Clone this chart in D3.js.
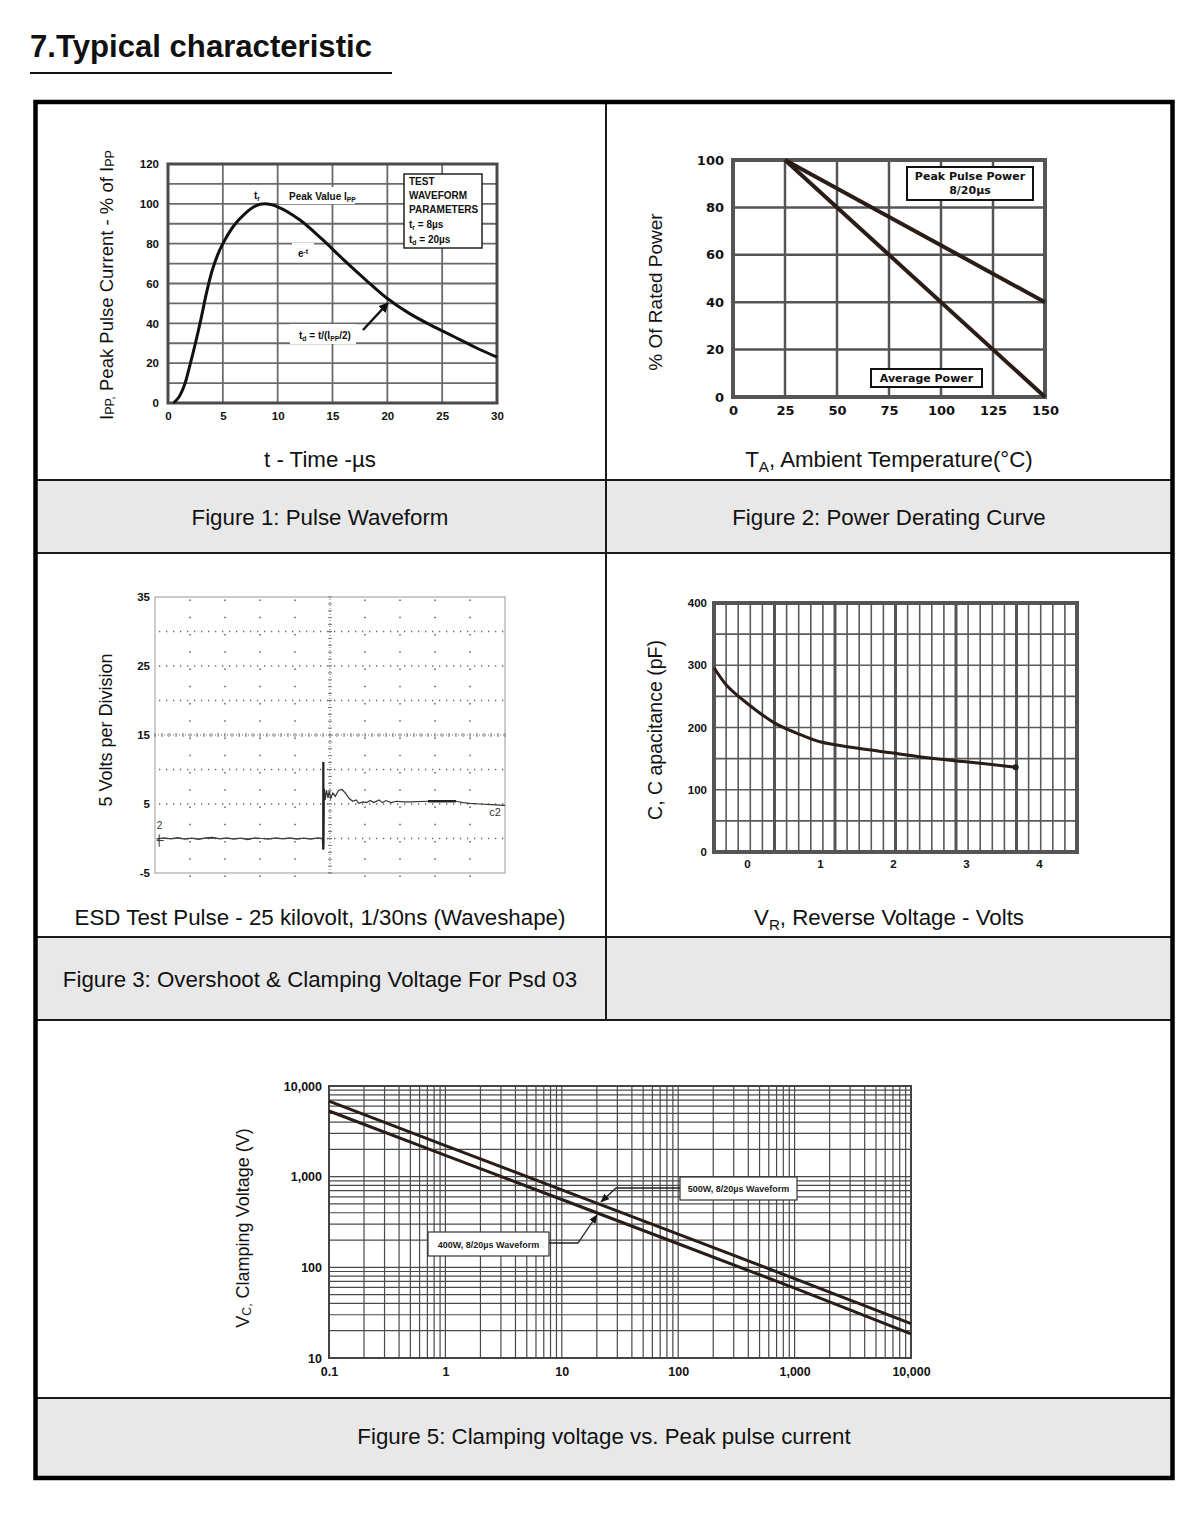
<!DOCTYPE html>
<html>
<head>
<meta charset="utf-8">
<script src="https://cdn.jsdelivr.net/npm/d3@7"></script>
<style>body{margin:0;background:#fff}</style>
</head>
<body>
<div id="chart"></div>
<script>
// fig 1 - pulse waveform
var pulseT=[0.5,1,1.5,2,2.5,3,3.5,4,4.5,5,6,7,8,8.8,10,12,14,16,18,20,22,24,26,28,30]
var pulseI=[0,3,9,19,30,42,55,66,74,80,89,95,99,100,98.5,92,82.5,72,62,52.5,45,39,33.5,28,23]
var fig1Xticks=[0,5,10,15,20,25,30]
var fig1Yticks=[0,20,40,60,80,100,120]

// fig 2 - derating
var derTemp=[25,150]
var derPeak=[100,40]
var derAvg=[100,0]
var fig2Xticks=[0,25,50,75,100,125,150]
var fig2Yticks=[0,20,40,60,80,100]

// fig 3 - esd scope trace (divisions, volts)
var esdDiv=[0.05,0.25,0.45,0.65,0.85,1.05,1.25,1.45,1.65,1.85,2.05,2.25,2.45,2.65,2.85,3.05,3.25,3.45,3.65,3.85,4.05,4.25,4.45,4.65,4.78,
  4.80,4.81,4.82,4.84,4.86,4.9,4.94,4.98,5.02,5.08,5.15,5.25,5.35,5.45,5.55,5.65,5.75,5.82,5.95,6.05,6.15,6.25,6.4,6.5,6.6,6.75,6.9,7.1,7.3,7.8,8.6,8.8,9.0,9.3,9.6,10]
var esdVolt=[-0.1,0.1,-0.05,0.12,-0.1,0.05,-0.12,0.08,0.15,-0.05,0.1,-0.1,0.05,-0.15,0.1,0.0,-0.1,0.08,-0.05,0.1,-0.08,0.05,-0.1,0.08,0.0,
  -1.6,11.1,-1.0,7.2,5.6,7.0,5.9,6.9,5.8,6.6,6.1,7.0,7.1,6.5,5.8,5.4,5.6,5.1,5.3,5.2,5.5,5.2,5.6,5.2,5.5,5.2,5.4,5.3,5.3,5.4,5.4,5.2,5.1,5.0,4.9,4.8]
var fig3Yticks=[-5,5,15,25,35]

// fig 4 - capacitance
var capV=[-0.45,-0.28,0,0.38,0.68,1,1.5,2,2.5,3,3.68]
var capPF=[296,268,239,207,191,177,167,159,151,145,136]
var fig4Xticks=[0,1,2,3,4]
var fig4Yticks=[0,100,200,300,400]

// fig 5 - clamping voltage
var ippA=[0.1,1,10,100,1000,10000]
var vc500=[6800,2200,715,232,75,24]
var vc400=[5300,1720,560,182,59,18.5]
var fig5Xticks=[0.1,1,10,100,1000,10000]
var fig5Xlabels=["0.1","1","10","100","1,000","10,000"]
var fig5Yticks=[10,100,1000,10000]
var fig5Ylabels=["10","100","1,000","10,000"]

var sans="Liberation Sans, Arial, sans-serif"
var narrow="Liberation Sans Narrow, Liberation Sans, Arial, sans-serif"
var verd="DejaVu Sans, Verdana, sans-serif"
var ink="#2a1c16"
var capSize=22.3

var svg=d3.select("#chart").append("svg").attr("width",1200).attr("height",1513)
var defs=svg.append("defs")
defs.append("marker").attr("id","arr").attr("viewBox","0 0 10 10").attr("refX",9).attr("refY",5)
  .attr("markerWidth",4).attr("markerHeight",4).attr("orient","auto")
  .append("path").attr("d","M0,0L10,5L0,10z").attr("fill","#111")
defs.append("marker").attr("id","arr2").attr("viewBox","0 0 10 10").attr("refX",9).attr("refY",5)
  .attr("markerWidth",7).attr("markerHeight",7).attr("orient","auto")
  .append("path").attr("d","M0,1L10,5L0,9z").attr("fill","#111")

// title
svg.append("text").attr("x",30).attr("y",57).attr("font-family",sans).attr("font-weight","bold")
  .attr("font-size",31).attr("fill","#111").attr("textLength",342).attr("lengthAdjust","spacingAndGlyphs")
  .text("7.Typical characteristic")
svg.append("line").attr("x1",30).attr("x2",392).attr("y1",73).attr("y2",73).attr("stroke","#111").attr("stroke-width",2)

// frame
var bands=[[480,553],[937,1020],[1398,1478]]
bands.forEach(function(b){
  svg.append("rect").attr("x",37).attr("y",b[0]).attr("width",1134).attr("height",b[1]-b[0]).attr("fill","#e8e8e8")
})
;[480,553,937,1020,1398].forEach(function(y){
  svg.append("line").attr("x1",36).attr("x2",1172).attr("y1",y).attr("y2",y).attr("stroke","#1a1a1a").attr("stroke-width",2)
})
svg.append("line").attr("x1",606).attr("x2",606).attr("y1",102).attr("y2",1020).attr("stroke","#1a1a1a").attr("stroke-width",2)
svg.append("rect").attr("x",35.5).attr("y",102).attr("width",1137).attr("height",1376)
  .attr("fill","none").attr("stroke","#000").attr("stroke-width",4.5)

function caption(x,y,txt){
  return svg.append("text").attr("x",x).attr("y",y).attr("text-anchor","middle").attr("font-family",sans)
    .attr("font-size",capSize).attr("fill","#111").text(txt)
}
// parts: [text, 1 = subscript, 2 = superscript]
function rich(sel,parts){
  parts.forEach(function(p){
    var t=sel.append("tspan").text(p[0])
    if(p[1]==1) t.attr("font-size","0.68em").attr("baseline-shift","-0.3em")
    if(p[1]==2) t.attr("font-size","0.68em").attr("baseline-shift","super")
  })
  return sel
}
function vlabel(cx,cy,size,parts){
  var t=svg.append("text").attr("transform","translate("+cx+","+cy+") rotate(-90)")
    .attr("text-anchor","middle").attr("dominant-baseline","central").attr("font-family",sans)
    .attr("font-size",size).attr("fill","#111")
  return rich(t,parts)
}
function tickStyle(g,font,size){
  g.attr("font-family",font).attr("font-size",size).attr("font-weight","bold")
  g.select(".domain").remove()
  g.selectAll("line").remove()
  g.selectAll("text").attr("fill","#111")
}
function grid(g,x,y,xv,yv,color,w){
  g.selectAll(null).data(xv).enter().append("line")
    .attr("x1",function(d){return x(d)}).attr("x2",function(d){return x(d)})
    .attr("y1",y.range()[0]).attr("y2",y.range()[1]).attr("stroke",color).attr("stroke-width",w)
  g.selectAll(null).data(yv).enter().append("line")
    .attr("y1",function(d){return y(d)}).attr("y2",function(d){return y(d)})
    .attr("x1",x.range()[0]).attr("x2",x.range()[1]).attr("stroke",color).attr("stroke-width",w)
}
var plain=function(d){return String(d)}

// ---------- Figure 1 ----------
var x1=d3.scaleLinear().domain([0,30]).range([168,497])
var y1=d3.scaleLinear().domain([0,120]).range([403,164])
var g1=svg.append("g")
grid(g1,x1,y1,[5,10,15,20,25],d3.range(10,120,10),"#6a6a6a",1.8)
g1.append("rect").attr("x",168).attr("y",164).attr("width",329).attr("height",239)
  .attr("fill","none").attr("stroke","#4a4a4a").attr("stroke-width",3)
g1.append("g").attr("transform","translate(0,403)")
  .call(d3.axisBottom(x1).tickValues(fig1Xticks).tickSize(0).tickPadding(9)).call(tickStyle,narrow,11.5)
g1.append("g").attr("transform","translate(168,0)")
  .call(d3.axisLeft(y1).tickValues(fig1Yticks).tickSize(0).tickPadding(9)).call(tickStyle,narrow,11.5)
// white label backings
g1.append("rect").attr("x",279).attr("y",187).attr("width",76).attr("height",17).attr("fill","#fff")
g1.append("rect").attr("x",292).attr("y",243).attr("width",22).attr("height",17).attr("fill","#fff")
g1.append("rect").attr("x",290).attr("y",324).attr("width",66).attr("height",20).attr("fill","#fff")
g1.append("path").datum(pulseT.map(function(t,i){return [t,pulseI[i]]}))
  .attr("d",d3.line().x(function(d){return x1(d[0])}).y(function(d){return y1(d[1])}).curve(d3.curveCatmullRom.alpha(0.5)))
  .attr("fill","none").attr("stroke","#111").attr("stroke-width",3)
function small(g,x,y,parts,size,anchor){
  var t=g.append("text").attr("x",x).attr("y",y).attr("font-family",narrow).attr("font-weight","bold")
    .attr("font-size",size||10).attr("fill","#111").attr("text-anchor",anchor||"start")
  return rich(t,parts)
}
small(g1,254,199,[["t"],["r",1]])
small(g1,289,200,[["Peak Value I"],["PP",1]])
small(g1,298,257,[["e"],["-t",2]])
small(g1,299,339,[["t"],["d",1],[" = t/(I"],["PP",1],["/2)"]])
g1.append("line").attr("x1",363).attr("y1",330).attr("x2",388).attr("y2",303)
  .attr("stroke","#111").attr("stroke-width",2.5).attr("marker-end","url(#arr)")
g1.append("rect").attr("x",404).attr("y",174).attr("width",78).attr("height",74)
  .attr("fill","#fff").attr("stroke","#222").attr("stroke-width",1.5)
small(g1,409,185,[["TEST"]])
small(g1,409,199,[["WAVEFORM"]])
small(g1,409,213,[["PARAMETERS"]])
small(g1,409,228,[["t"],["r",1],[" = 8µs"]])
small(g1,409,243,[["t"],["d",1],[" = 20µs"]])
vlabel(106,285,18.5,[["I"],["PP,",1],[" Peak Pulse Current - % of I"],["PP",1]])
caption(320,467,"t - Time -µs")
caption(320,525,"Figure 1: Pulse Waveform")

// ---------- Figure 2 ----------
var x2=d3.scaleLinear().domain([0,150]).range([733,1045])
var y2=d3.scaleLinear().domain([0,100]).range([397,160])
var g2=svg.append("g")
grid(g2,x2,y2,[25,50,75,100,125],[20,40,60,80],"#555",2.5)
g2.append("rect").attr("x",733).attr("y",160).attr("width",312).attr("height",237)
  .attr("fill","none").attr("stroke","#555").attr("stroke-width",4)
g2.append("g").attr("transform","translate(0,397)")
  .call(d3.axisBottom(x2).tickValues(fig2Xticks).tickSize(0).tickPadding(9)).call(tickStyle,verd,13)
g2.append("g").attr("transform","translate(733,0)")
  .call(d3.axisLeft(y2).tickValues(fig2Yticks).tickSize(0).tickPadding(9)).call(tickStyle,verd,13)
var line2=d3.line().x(function(d){return x2(d[0])}).y(function(d){return y2(d[1])})
g2.append("path").datum(derTemp.map(function(t,i){return [t,derPeak[i]]})).attr("d",line2)
  .attr("fill","none").attr("stroke",ink).attr("stroke-width",4)
g2.append("path").datum(derTemp.map(function(t,i){return [t,derAvg[i]]})).attr("d",line2)
  .attr("fill","none").attr("stroke",ink).attr("stroke-width",4)
g2.append("rect").attr("x",907).attr("y",167).attr("width",126).attr("height",33)
  .attr("fill","#fff").attr("stroke","#111").attr("stroke-width",2)
g2.append("text").attr("x",970).attr("y",180).attr("text-anchor","middle").attr("font-family",verd)
  .attr("font-weight","bold").attr("font-size",11).attr("fill","#111").text("Peak Pulse Power")
g2.append("text").attr("x",970).attr("y",194).attr("text-anchor","middle").attr("font-family",verd)
  .attr("font-weight","bold").attr("font-size",11).attr("fill","#111").text("8/20µs")
g2.append("rect").attr("x",871).attr("y",369).attr("width",111).attr("height",18)
  .attr("fill","#fff").attr("stroke","#111").attr("stroke-width",2)
g2.append("text").attr("x",926.5).attr("y",382).attr("text-anchor","middle").attr("font-family",verd)
  .attr("font-weight","bold").attr("font-size",11).attr("fill","#111").text("Average Power")
vlabel(655,292,19,[["% Of Rated Power"]])
var t2=svg.append("text").attr("x",889).attr("y",467).attr("text-anchor","middle").attr("font-family",sans)
  .attr("font-size",capSize).attr("fill","#111")
rich(t2,[["T"],["A",1],[", Ambient Temperature(°C)"]])
caption(889,525,"Figure 2: Power Derating Curve")

// ---------- Figure 3 ----------
var x3=d3.scaleLinear().domain([0,10]).range([155,505])
var y3=d3.scaleLinear().domain([-5,35]).range([873,597])
var g3=svg.append("g")
g3.append("rect").attr("x",155).attr("y",597).attr("width",350).attr("height",276)
  .attr("fill","#fff").attr("stroke","#999").attr("stroke-width",1)
g3.selectAll(null).data([1,2,3,4,6,7,8,9]).enter().append("line")
  .attr("x1",function(d){return x3(d)}).attr("x2",function(d){return x3(d)})
  .attr("y1",y3(-5)+4).attr("y2",y3(35)).attr("stroke","#555").attr("stroke-width",1.4)
  .attr("stroke-dasharray","1.4,15.85")
g3.selectAll(null).data([0,5,10,20,25,30]).enter().append("line")
  .attr("y1",function(d){return y3(d)}).attr("y2",function(d){return y3(d)})
  .attr("x1",x3(0)+4).attr("x2",x3(10)).attr("stroke","#666").attr("stroke-width",1.3)
  .attr("stroke-dasharray","1.3,5.7")
// center cross lines
g3.append("line").attr("x1",x3(5)).attr("x2",x3(5)).attr("y1",y3(-5)).attr("y2",y3(35))
  .attr("stroke","#666").attr("stroke-width",1).attr("stroke-dasharray","1,2")
g3.append("line").attr("y1",y3(15)).attr("y2",y3(15)).attr("x1",x3(0)).attr("x2",x3(10))
  .attr("stroke","#666").attr("stroke-width",1).attr("stroke-dasharray","1,2")
g3.selectAll(null).data(d3.range(0,10.01,0.2)).enter().append("line")
  .attr("x1",function(d){return x3(d)}).attr("x2",function(d){return x3(d)})
  .attr("y1",y3(15)-2).attr("y2",y3(15)+2).attr("stroke","#777").attr("stroke-width",1)
g3.selectAll(null).data(d3.range(-5,35.01,1)).enter().append("line")
  .attr("y1",function(d){return y3(d)}).attr("y2",function(d){return y3(d)})
  .attr("x1",x3(5)-2).attr("x2",x3(5)+2).attr("stroke","#777").attr("stroke-width",1)
g3.append("g").attr("transform","translate(155,0)")
  .call(d3.axisLeft(y3).tickValues(fig3Yticks).tickFormat(plain).tickSize(0).tickPadding(5)).call(tickStyle,narrow,11.5)
g3.append("path").datum(esdDiv.map(function(t,i){return [t,esdVolt[i]]}))
  .attr("d",d3.line().x(function(d){return x3(d[0])}).y(function(d){return y3(d[1])}))
  .attr("fill","none").attr("stroke","#333").attr("stroke-width",1.2)
// heavy spike and heavy segments of the trace
g3.append("line").attr("x1",x3(4.81)).attr("x2",x3(4.81)).attr("y1",y3(-1.6)).attr("y2",y3(11.1))
  .attr("stroke","#222").attr("stroke-width",2.2)
g3.append("line").attr("x1",x3(0.05)).attr("x2",x3(4.78)).attr("y1",y3(0)).attr("y2",y3(0))
  .attr("stroke","#444").attr("stroke-width",0.8)
g3.append("line").attr("x1",x3(7.8)).attr("x2",x3(8.6)).attr("y1",y3(5.4)).attr("y2",y3(5.4))
  .attr("stroke","#222").attr("stroke-width",2.5)
g3.append("text").attr("x",x3(0.05)).attr("y",y3(1.4)).attr("font-family",narrow).attr("font-size",10).attr("fill","#333").text("2")
g3.append("line").attr("x1",x3(0.05)).attr("x2",x3(0.25)).attr("y1",y3(-0.3)).attr("y2",y3(-0.3)).attr("stroke","#333").attr("stroke-width",1)
g3.append("line").attr("x1",x3(0.12)).attr("x2",x3(0.12)).attr("y1",y3(0.6)).attr("y2",y3(-1.2)).attr("stroke","#333").attr("stroke-width",1)
g3.append("text").attr("x",x3(9.55)).attr("y",y3(3.3)).attr("font-family",narrow).attr("font-size",11).attr("fill","#333").text("c2")
vlabel(106,730,18,[["5 Volts per Division"]])
caption(320,925,"ESD Test Pulse - 25 kilovolt, 1/30ns (Waveshape)")
caption(320,987,"Figure 3: Overshoot & Clamping Voltage For Psd 03")

// ---------- Figure 4 ----------
var gx4=d3.scaleLinear().domain([0,30]).range([714,1077]) // grid divisions
var x4=d3.scaleLinear().domain([0,4]).range([747,1039])   // volts
var y4=d3.scaleLinear().domain([0,400]).range([852,603])
var g4=svg.append("g")
grid(g4,gx4,y4,d3.range(1,30).filter(function(d){return d%5}),d3.range(50,400,50),"#5a5a5a",1.6)
g4.selectAll(null).data([5,10,15,20,25]).enter().append("line")
  .attr("x1",function(d){return gx4(d)}).attr("x2",function(d){return gx4(d)})
  .attr("y1",852).attr("y2",603).attr("stroke","#555").attr("stroke-width",3)
g4.append("rect").attr("x",714).attr("y",603).attr("width",363).attr("height",249)
  .attr("fill","none").attr("stroke","#555").attr("stroke-width",4)
g4.append("g").attr("transform","translate(0,852)")
  .call(d3.axisBottom(x4).tickValues(fig4Xticks).tickFormat(plain).tickSize(0).tickPadding(8)).call(tickStyle,narrow,11.5)
g4.append("g").attr("transform","translate(714,0)")
  .call(d3.axisLeft(y4).tickValues(fig4Yticks).tickFormat(plain).tickSize(0).tickPadding(7)).call(tickStyle,narrow,11.5)
g4.append("path").datum(capV.map(function(v,i){return [v,capPF[i]]}))
  .attr("d",d3.line().x(function(d){return x4(d[0])}).y(function(d){return y4(d[1])}).curve(d3.curveCatmullRom.alpha(0.5)))
  .attr("fill","none").attr("stroke",ink).attr("stroke-width",3)
g4.append("circle").attr("cx",x4(capV[capV.length-1])).attr("cy",y4(capPF[capPF.length-1])).attr("r",3).attr("fill",ink)
vlabel(655,730,19.5,[["C, C apacitance (pF)"]])
var t4=svg.append("text").attr("x",889).attr("y",925).attr("text-anchor","middle").attr("font-family",sans)
  .attr("font-size",capSize).attr("fill","#111")
rich(t4,[["V"],["R",1],[", Reverse Voltage - Volts"]])

// ---------- Figure 5 ----------
var x5=d3.scaleLog().domain([0.1,10000]).range([329,911])
var y5=d3.scaleLog().domain([10,10000]).range([1358,1086])
var g5=svg.append("g")
grid(g5,x5,y5,x5.ticks(),y5.ticks(),"#4a4a4a",1.2)
g5.append("rect").attr("x",329).attr("y",1086).attr("width",582).attr("height",272)
  .attr("fill","none").attr("stroke","#444").attr("stroke-width",2)
g5.append("g").attr("transform","translate(0,1358)")
  .call(d3.axisBottom(x5).tickValues(fig5Xticks).tickFormat(function(d,i){return fig5Xlabels[i]}).tickSize(0).tickPadding(9))
  .call(tickStyle,narrow,12.5)
g5.append("g").attr("transform","translate(329,0)")
  .call(d3.axisLeft(y5).tickValues(fig5Yticks).tickFormat(function(d,i){return fig5Ylabels[i]}).tickSize(0).tickPadding(7))
  .call(tickStyle,narrow,12.5)
var line5=d3.line().x(function(d){return x5(d[0])}).y(function(d){return y5(d[1])})
g5.append("path").datum(ippA.map(function(a,i){return [a,vc500[i]]})).attr("d",line5)
  .attr("fill","none").attr("stroke",ink).attr("stroke-width",3)
g5.append("path").datum(ippA.map(function(a,i){return [a,vc400[i]]})).attr("d",line5)
  .attr("fill","none").attr("stroke",ink).attr("stroke-width",3)
// annotations
g5.append("polyline").attr("points",[[680,1188],[616,1188],[601,1202]].join(" "))
  .attr("fill","none").attr("stroke","#222").attr("stroke-width",1.3).attr("marker-end","url(#arr2)")
g5.append("polyline").attr("points",[[549,1243],[578,1243],[597,1215]].join(" "))
  .attr("fill","none").attr("stroke","#222").attr("stroke-width",1.3).attr("marker-end","url(#arr2)")
g5.append("rect").attr("x",680).attr("y",1177).attr("width",117).attr("height",23)
  .attr("fill","#fff").attr("stroke","#333").attr("stroke-width",1.2)
g5.append("text").attr("x",738.5).attr("y",1192).attr("text-anchor","middle").attr("font-family",narrow)
  .attr("font-weight","bold").attr("font-size",9).attr("fill","#222").text("500W, 8/20µs Waveform")
g5.append("rect").attr("x",428).attr("y",1232).attr("width",121).attr("height",24)
  .attr("fill","#fff").attr("stroke","#333").attr("stroke-width",1.2)
g5.append("text").attr("x",488.5).attr("y",1247.5).attr("text-anchor","middle").attr("font-family",narrow)
  .attr("font-weight","bold").attr("font-size",9).attr("fill","#222").text("400W, 8/20µs Waveform")
vlabel(243,1228,18,[["V"],["C,",1],[" Clamping Voltage (V)"]])
caption(604,1444,"Figure 5: Clamping voltage vs. Peak pulse current")
</script>
</body>
</html>
